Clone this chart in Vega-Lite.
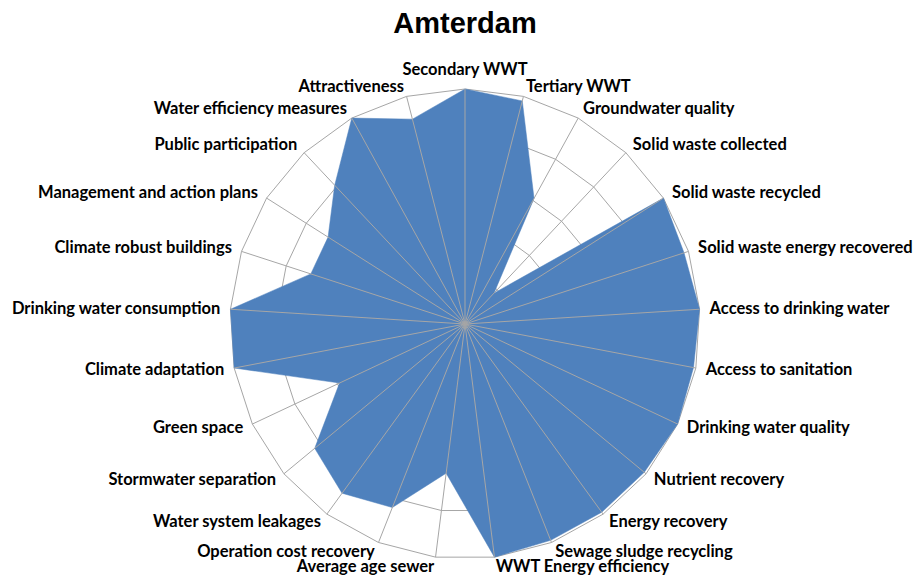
{
  "$schema": "https://vega.github.io/schema/vega-lite/v6.json",
  "width": 470,
  "height": 470,
  "autosize": {"type": "none"},
  "padding": {"left": 230, "top": 89, "right": 216, "bottom": 20},
  "background": "white",
  "title": {"text": "Amterdam", "font": "Liberation Sans", "fontSize": 29, "fontWeight": "bold", "color": "black", "anchor": "middle", "frame": "group", "baseline": "alphabetic", "offset": 0},
  "config": {"view": {"stroke": null}},
  "data": {"values": [
    {"category": "Secondary WWT", "value": 10},
    {"category": "Tertiary WWT", "value": 9.8},
    {"category": "Groundwater quality", "value": 6.1},
    {"category": "Solid waste collected", "value": 1.8},
    {"category": "Solid waste recycled", "value": 10},
    {"category": "Solid waste energy recovered", "value": 9.8},
    {"category": "Access to drinking water", "value": 10},
    {"category": "Access to sanitation", "value": 9.9},
    {"category": "Drinking water quality", "value": 10},
    {"category": "Nutrient recovery", "value": 9.9},
    {"category": "Energy recovery", "value": 9.9},
    {"category": "Sewage sludge recycling", "value": 9.9},
    {"category": "WWT Energy efficiency", "value": 10},
    {"category": "Average age sewer", "value": 6.4},
    {"category": "Operation cost recovery", "value": 8.4},
    {"category": "Water system leakages", "value": 8.9},
    {"category": "Stormwater separation", "value": 8.3},
    {"category": "Green space", "value": 5.9},
    {"category": "Climate adaptation", "value": 10},
    {"category": "Drinking water consumption", "value": 10},
    {"category": "Climate robust buildings", "value": 6.9},
    {"category": "Management and action plans", "value": 6.9},
    {"category": "Public participation", "value": 8.1},
    {"category": "Water efficiency measures", "value": 10},
    {"category": "Attractiveness", "value": 9.0}
  ]},
  "transform": [
    {"window": [{"op": "row_number", "as": "rn"}]},
    {"calculate": "(datum.rn-1)*2*PI/25", "as": "theta"},
    {"calculate": "datum.value*sin(datum.theta)", "as": "px"},
    {"calculate": "datum.value*cos(datum.theta)", "as": "py"},
    {"calculate": "10*sin(datum.theta)", "as": "sx"},
    {"calculate": "10*cos(datum.theta)", "as": "sy"}
  ],
  "layer": [
    {
      "transform": [
        {"calculate": "[2,4,6,8,10]", "as": "lv"},
        {"flatten": ["lv"]},
        {"calculate": "datum.lv*sin(datum.theta)", "as": "gx"},
        {"calculate": "datum.lv*cos(datum.theta)", "as": "gy"}
      ],
      "mark": {"type": "line", "interpolate": "linear-closed", "stroke": "#A6A6A6", "strokeWidth": 1},
      "encoding": {
        "x": {"field": "gx", "type": "quantitative", "scale": {"domain": [-10, 10], "nice": false, "zero": false}, "axis": null},
        "y": {"field": "gy", "type": "quantitative", "scale": {"domain": [-10, 10], "nice": false, "zero": false}, "axis": null},
        "detail": {"field": "lv", "type": "nominal"},
        "order": {"field": "rn", "type": "quantitative"}
      }
    },
    {
      "mark": {"type": "line", "interpolate": "linear-closed", "fill": "#4F81BD", "stroke": "#4F81BD", "strokeWidth": 0.5},
      "encoding": {
        "x": {"field": "px", "type": "quantitative", "scale": {"domain": [-10, 10], "nice": false, "zero": false}, "axis": null},
        "y": {"field": "py", "type": "quantitative", "scale": {"domain": [-10, 10], "nice": false, "zero": false}, "axis": null},
        "order": {"field": "rn", "type": "quantitative"}
      }
    },
    {
      "mark": {"type": "rule", "stroke": "#A6A6A6", "strokeWidth": 1},
      "encoding": {
        "x": {"field": "sx", "type": "quantitative", "scale": {"domain": [-10, 10], "nice": false, "zero": false}, "axis": null},
        "y": {"field": "sy", "type": "quantitative", "scale": {"domain": [-10, 10], "nice": false, "zero": false}, "axis": null},
        "x2": {"datum": 0},
        "y2": {"datum": 0}
      }
    },
    {
      "transform": [
        {"filter": "datum.rn == 1"},
        {"calculate": "10.47*sin(datum.theta)", "as": "lx"},
        {"calculate": "10.47*cos(datum.theta)", "as": "ly"}
      ],
      "mark": {"type": "text", "align": "center", "baseline": "bottom", "font": "Lato", "fontSize": 16.5, "fontWeight": "bold", "color": "black"},
      "encoding": {
        "x": {"field": "lx", "type": "quantitative", "scale": {"domain": [-10, 10], "nice": false, "zero": false}, "axis": null},
        "y": {"field": "ly", "type": "quantitative", "scale": {"domain": [-10, 10], "nice": false, "zero": false}, "axis": null},
        "text": {"field": "category"}
      }
    },
    {
      "transform": [
        {"filter": "datum.rn >= 2 && datum.rn <= 13"},
        {"calculate": "10.43*sin(datum.theta)", "as": "lx"},
        {"calculate": "10.43*cos(datum.theta)", "as": "ly"}
      ],
      "mark": {"type": "text", "align": "left", "baseline": "middle", "font": "Lato", "fontSize": 16.5, "fontWeight": "bold", "color": "black"},
      "encoding": {
        "x": {"field": "lx", "type": "quantitative", "scale": {"domain": [-10, 10], "nice": false, "zero": false}, "axis": null},
        "y": {"field": "ly", "type": "quantitative", "scale": {"domain": [-10, 10], "nice": false, "zero": false}, "axis": null},
        "text": {"field": "category"}
      }
    },
    {
      "transform": [
        {"filter": "datum.rn >= 14"},
        {"calculate": "10.43*sin(datum.theta)", "as": "lx"},
        {"calculate": "10.43*cos(datum.theta)", "as": "ly"}
      ],
      "mark": {"type": "text", "align": "right", "baseline": "middle", "font": "Lato", "fontSize": 16.5, "fontWeight": "bold", "color": "black"},
      "encoding": {
        "x": {"field": "lx", "type": "quantitative", "scale": {"domain": [-10, 10], "nice": false, "zero": false}, "axis": null},
        "y": {"field": "ly", "type": "quantitative", "scale": {"domain": [-10, 10], "nice": false, "zero": false}, "axis": null},
        "text": {"field": "category"}
      }
    }
  ]
}
